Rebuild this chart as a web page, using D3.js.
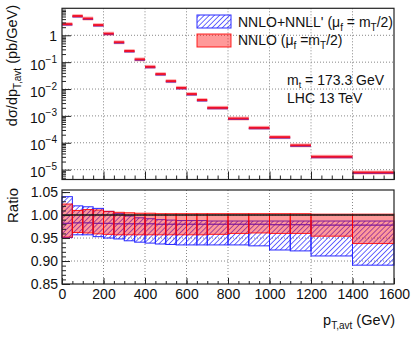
<!DOCTYPE html>
<html>
<head>
<meta charset="utf-8">
<script src="https://cdn.jsdelivr.net/npm/d3@7"></script>
<style>
  body { margin: 0; background: #fff; }
  svg { font-family: "Liberation Sans", Arial, sans-serif; }
</style>
</head>
<body>
<div id="chart"></div>
<script>
// bins and values
const binEdges = [0, 50, 100, 150, 200, 250, 300, 350, 400, 450, 500, 550, 600, 650, 700, 800, 900, 1000, 1100, 1200, 1400, 1600];
const nnloXsec = [2.6, 5.2, 4.2, 2.4, 1.15, 0.55, 0.26, 0.127, 0.067, 0.036, 0.0197, 0.011, 0.0065, 0.0039, 0.002, 0.0008, 0.00036, 0.000162, 0.00008, 0.00003, 0.0000079];

// ratios to NNLO central
const resumMid = [0.982, 0.983, 0.983, 0.982, 0.982, 0.981, 0.981, 0.981, 0.981, 0.980, 0.980, 0.980, 0.980, 0.980, 0.980, 0.980, 0.980, 0.979, 0.979, 0.978, 0.978];
const resumHi = [1.040, 1.020, 1.018, 1.0145, 1.008, 1.003, 0.998, 0.994, 0.992, 0.990, 0.989, 0.988, 0.988, 0.988, 0.987, 0.987, 0.987, 0.987, 0.987, 0.987, 0.987];
const resumLo = [0.951, 0.957, 0.957, 0.953, 0.950, 0.948, 0.944, 0.941, 0.939, 0.937, 0.936, 0.935, 0.935, 0.935, 0.935, 0.935, 0.933, 0.924, 0.922, 0.911, 0.891];
const nnloHi = [1.024, 1.010, 1.012, 1.011, 1.008, 1.006, 1.005, 1.004, 1.004, 1.003, 1.003, 1.003, 1.003, 1.003, 1.003, 1.003, 1.003, 1.003, 1.003, 1.002, 1.002];
const nnloLo = [0.952, 0.962, 0.961, 0.959, 0.958, 0.957, 0.957, 0.957, 0.957, 0.957, 0.957, 0.957, 0.957, 0.957, 0.958, 0.960, 0.961, 0.960, 0.960, 0.954, 0.938];

const xTicks = [0, 200, 400, 600, 800, 1000, 1200, 1400, 1600];
const ratioTicks = [0.85, 0.90, 0.95, 1.00, 1.05];
const decadeTicks = [1e-5, 1e-4, 1e-3, 1e-2, 1e-1, 1];

const width = 411, height = 338;
const left = 62, right = 394;

const svg = d3.select("#chart")
  .append("svg")
  .attr("width", width)
  .attr("height", height);

svg.append("rect").attr("width", width).attr("height", height).attr("fill", "#fff");

const defs = svg.append("defs");
const hatch = defs.append("pattern")
  .attr("id", "hatch")
  .attr("patternUnits", "userSpaceOnUse")
  .attr("width", 3.6)
  .attr("height", 3.6)
  .attr("patternTransform", "rotate(45)");
hatch.append("line")
  .attr("x1", 0).attr("y1", 0).attr("x2", 0).attr("y2", 3.6)
  .attr("stroke", "#1a1aff").attr("stroke-width", 1.3);

const x = d3.scaleLinear().domain([0, 1600]).range([left, right]);
const y = d3.scaleLog().domain([4.3e-6, 10.1]).range([179.5, 8.3]);
const yr = d3.scaleLinear().domain([0.85, 1.0545]).range([284, 190]);

const bins = nnloXsec.map((v, i) => ({
  x0: binEdges[i], x1: binEdges[i + 1], v,
  mid: resumMid[i], hi: resumHi[i], lo: resumLo[i],
  nhi: nnloHi[i], nlo: nnloLo[i]
}));

// grids
const gridStyle = g => g.attr("stroke", "#888").attr("stroke-width", 1).attr("stroke-dasharray", "1,2");

svg.append("g").selectAll("line")
  .data(xTicks.slice(1, -1)).enter().append("line")
  .attr("x1", d => x(d)).attr("x2", d => x(d))
  .attr("y1", y.range()[1]).attr("y2", y.range()[0])
  .call(gridStyle);
svg.append("g").selectAll("line")
  .data(decadeTicks).enter().append("line")
  .attr("x1", left).attr("x2", right)
  .attr("y1", d => y(d)).attr("y2", d => y(d))
  .call(gridStyle);
svg.append("g").selectAll("line")
  .data(xTicks.slice(1, -1)).enter().append("line")
  .attr("x1", d => x(d)).attr("x2", d => x(d))
  .attr("y1", yr.range()[1]).attr("y2", yr.range()[0])
  .call(gridStyle);
svg.append("g").selectAll("line")
  .data(ratioTicks.slice(1, -1)).enter().append("line")
  .attr("x1", left).attr("x2", right)
  .attr("y1", d => yr(d)).attr("y2", d => yr(d))
  .call(gridStyle);

// top panel: histograms
const upper = svg.append("g");
upper.selectAll(".halo").data(bins).enter().append("line")
  .attr("x1", d => x(d.x0)).attr("x2", d => x(d.x1))
  .attr("y1", d => y(d.v)).attr("y2", d => y(d.v))
  .attr("stroke", "rgba(255,0,0,0.3)").attr("stroke-width", 4);
upper.selectAll(".resum").data(bins).enter().append("line")
  .attr("x1", d => x(d.x0)).attr("x2", d => x(d.x1))
  .attr("y1", d => y(d.v * d.mid) + 0.6).attr("y2", d => y(d.v * d.mid) + 0.6)
  .attr("stroke", "#5b3fd0").attr("stroke-width", 1.3);
upper.selectAll(".nnlo").data(bins).enter().append("line")
  .attr("x1", d => x(d.x0)).attr("x2", d => x(d.x1))
  .attr("y1", d => y(d.v)).attr("y2", d => y(d.v))
  .attr("stroke", "#f0102a").attr("stroke-width", 2);

// lower panel: ratio bands
const lower = svg.append("g");
lower.selectAll(".bband").data(bins).enter().append("rect")
  .attr("x", d => x(d.x0)).attr("width", d => x(d.x1) - x(d.x0))
  .attr("y", d => yr(d.hi)).attr("height", d => yr(d.lo) - yr(d.hi))
  .attr("fill", "url(#hatch)")
  .attr("stroke", "#2a2aff").attr("stroke-width", 1);
lower.selectAll(".bmid").data(bins).enter().append("line")
  .attr("x1", d => x(d.x0)).attr("x2", d => x(d.x1))
  .attr("y1", d => yr(d.mid)).attr("y2", d => yr(d.mid))
  .attr("stroke", "#2a2aff").attr("stroke-width", 1.2);
lower.selectAll(".rband").data(bins).enter().append("rect")
  .attr("x", d => x(d.x0)).attr("width", d => x(d.x1) - x(d.x0))
  .attr("y", d => yr(d.nhi)).attr("height", d => yr(d.nlo) - yr(d.nhi))
  .attr("fill", "rgba(255,0,0,0.4)")
  .attr("stroke", "rgba(255,0,0,0.85)").attr("stroke-width", 1);
lower.append("line")
  .attr("x1", left).attr("x2", right)
  .attr("y1", yr(1)).attr("y2", yr(1))
  .attr("stroke", "#1a1a1a").attr("stroke-width", 1.5);

// frames
[[y.range()[1], y.range()[0]], [yr.range()[1], yr.range()[0]]].forEach(([t, b]) => {
  svg.append("rect")
    .attr("x", left).attr("y", t)
    .attr("width", right - left).attr("height", b - t)
    .attr("fill", "none").attr("stroke", "#222").attr("stroke-width", 1.2);
});

const styleAxis = g => {
  g.select(".domain").remove();
  g.selectAll("line").attr("stroke", "#222");
  g.selectAll("text").attr("fill", "#111").style("font-size", "14px").style("font-family", "Liberation Sans, Arial, sans-serif");
};

// x axes
const xMinor = d3.range(0, 1601, 50);
svg.append("g").attr("transform", `translate(0,${y.range()[0]})`)
  .call(d3.axisBottom(x).tickValues(xMinor).tickSize(-4).tickFormat(""))
  .call(styleAxis);
svg.append("g").attr("transform", `translate(0,${y.range()[0]})`)
  .call(d3.axisBottom(x).tickValues(xTicks).tickSize(-8).tickFormat(""))
  .call(styleAxis);
svg.append("g").attr("transform", `translate(0,${yr.range()[0]})`)
  .call(d3.axisBottom(x).tickValues(xMinor).tickSize(-3).tickFormat(""))
  .call(styleAxis);
svg.append("g").attr("transform", `translate(0,${yr.range()[0]})`)
  .call(d3.axisBottom(x).tickValues(xTicks).tickSize(-6).tickPadding(5).tickFormat(d3.format("d")))
  .call(styleAxis);

// y axis top (log)
const logMinor = [];
for (let e = -6; e <= 1; e++) for (let m = 2; m <= 9; m++) {
  const v = m * Math.pow(10, e);
  if (v > y.domain()[0] && v < y.domain()[1]) logMinor.push(v);
}
svg.append("g").attr("transform", `translate(${left},0)`)
  .call(d3.axisLeft(y).tickValues(logMinor).tickSize(-4).tickFormat(""))
  .call(styleAxis);
const yAx = svg.append("g").attr("transform", `translate(${left},0)`)
  .call(d3.axisLeft(y).tickValues(decadeTicks).tickSize(-9).tickPadding(5).tickFormat(""))
  .call(styleAxis);
yAx.selectAll(".tick text").each(function(d) {
  const t = d3.select(this).attr("dy", null);
  const e = Math.round(Math.log10(d));
  if (e === 0) { t.text("1").attr("y", 5); return; }
  t.attr("y", 7);
  t.append("tspan").text("10");
  t.append("tspan").text("\u2212" + (-e)).style("font-size", "10px").attr("dy", -7);
});

// y axis ratio
svg.append("g").attr("transform", `translate(${left},0)`)
  .call(d3.axisLeft(yr).tickValues(d3.range(0.85, 1.0501, 0.01)).tickSize(-4).tickFormat(""))
  .call(styleAxis);
svg.append("g").attr("transform", `translate(${left},0)`)
  .call(d3.axisLeft(yr).tickValues(ratioTicks).tickSize(-8).tickPadding(4).tickFormat(d3.format(".2f")))
  .call(styleAxis);

// titles
const ytitle = svg.append("text")
  .attr("transform", "translate(17,5) rotate(-90)")
  .attr("text-anchor", "end")
  .style("font-size", "14.5px").attr("fill", "#111");
ytitle.append("tspan").text("d\u03c3/dp");
ytitle.append("tspan").text("T,avt").style("font-size", "10px").attr("dy", 4);
ytitle.append("tspan").text(" (pb/GeV)").attr("dy", -4);

svg.append("text")
  .attr("transform", "translate(18,188) rotate(-90)")
  .attr("text-anchor", "end")
  .style("font-size", "15px").attr("fill", "#111")
  .text("Ratio");

const xtitle = svg.append("text")
  .attr("x", 395).attr("y", 325)
  .attr("text-anchor", "end")
  .style("font-size", "14.5px").attr("fill", "#111");
xtitle.append("tspan").text("p");
xtitle.append("tspan").text("T,avt").style("font-size", "10px").attr("dy", 4);
xtitle.append("tspan").text(" (GeV)").attr("dy", -4);

// legend
svg.append("rect").attr("x", 197).attr("y", 15).attr("width", 34).attr("height", 13)
  .attr("fill", "url(#hatch)").attr("stroke", "#2a2aff").attr("stroke-width", 1);
svg.append("rect").attr("x", 197).attr("y", 34).attr("width", 34).attr("height", 13)
  .attr("fill", "rgba(255,0,0,0.4)").attr("stroke", "rgba(255,0,0,0.85)").attr("stroke-width", 1);

const leg1 = svg.append("text").attr("x", 238).attr("y", 27).style("font-size", "14px").attr("fill", "#111");
leg1.append("tspan").text("NNLO+NNLL' (\u03bc");
leg1.append("tspan").text("f").style("font-size", "10px").attr("dy", 4);
leg1.append("tspan").text(" = m").attr("dy", -4);
leg1.append("tspan").text("T").style("font-size", "10px").attr("dy", 4);
leg1.append("tspan").text("/2)").attr("dy", -4);

const leg2 = svg.append("text").attr("x", 238).attr("y", 45).style("font-size", "14px").attr("fill", "#111");
leg2.append("tspan").text("NNLO (\u03bc");
leg2.append("tspan").text("f").style("font-size", "10px").attr("dy", 4);
leg2.append("tspan").text(" =m").attr("dy", -4);
leg2.append("tspan").text("T").style("font-size", "10px").attr("dy", 4);
leg2.append("tspan").text("/2)").attr("dy", -4);

const note1 = svg.append("text").attr("x", 287).attr("y", 85).style("font-size", "14px").attr("fill", "#111");
note1.append("tspan").text("m");
note1.append("tspan").text("t").style("font-size", "9px").attr("dy", 2.5);
note1.append("tspan").text(" = 173.3 GeV").attr("dy", -2.5);

svg.append("text").attr("x", 287).attr("y", 103).style("font-size", "14px").attr("fill", "#111")
  .text("LHC 13 TeV");
</script>
</body>
</html>
